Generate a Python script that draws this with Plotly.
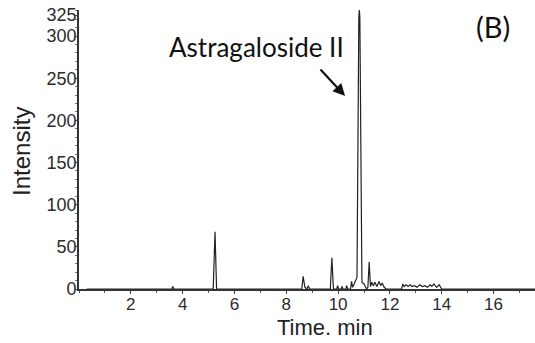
import plotly.graph_objects as go

# Chromatogram trace: retention time (min) and detector intensity
time_min = [
    0.3, 3.58, 3.62, 3.66,
    5.18, 5.25, 5.31,
    8.60, 8.65, 8.72, 8.80, 8.85, 8.90,
    9.70, 9.76, 9.82, 9.95, 9.98, 10.02, 10.12, 10.15, 10.19, 10.30, 10.33, 10.37,
    10.48, 10.52, 10.56, 10.62, 10.68, 10.73, 10.80, 10.82, 10.84, 10.92,
    11.00, 11.10, 11.15, 11.20, 11.25, 11.30, 11.36, 11.42, 11.50, 11.58, 11.64, 11.70, 11.78, 11.85,
    12.45, 12.50, 12.55, 12.62, 12.70, 12.78, 12.85, 12.95, 13.05, 13.15, 13.25, 13.35, 13.45,
    13.55, 13.62, 13.70, 13.80, 13.90, 14.00,
    17.6,
]
intensity = [
    0, 0, 3, 0,
    0, 68, 0,
    0, 15, 2, 0, 4, 0,
    0, 37, 0, 0, 4, 0, 0, 3, 0, 0, 4, 0,
    0, 9, 2, 6, 12, 14, 322, 331, 322, 8,
    6, 0, 2, 32, 3, 8, 4, 8, 3, 9, 4, 7, 2, 0,
    0, 6, 3, 5, 3, 5, 3, 4, 2, 5, 3, 4, 2,
    5, 3, 6, 2, 5, 0,
    0,
]

x_ticks = [2, 4, 6, 8, 10, 12, 14, 16]
y_ticks = [0, 50, 100, 150, 200, 250, 300, 325]

y_tick_font = dict(family="Liberation Sans, Arial, sans-serif", size=18, color="#2b2b2b")
x_tick_font = dict(family="Liberation Sans, Arial, sans-serif", size=17, color="#2b2b2b")
title_font = dict(family="Liberation Sans, Arial, sans-serif", size=22, color="#222222")

fig = go.Figure()
fig.add_trace(go.Scatter(
    x=time_min, y=intensity, mode="lines",
    line=dict(color="#222222", width=1.2),
    showlegend=False, hoverinfo="skip",
))

fig.update_xaxes(
    range=[0, 17.6], tickvals=x_ticks, ticktext=[str(v) for v in x_ticks],
    showgrid=False, zeroline=False, showline=True, linecolor="#333333", linewidth=1.6,
    ticks="outside", ticklen=3, tickcolor="#444444", tickwidth=1,
    minor=dict(dtick=1, ticks="outside", ticklen=2, tickcolor="#555555"),
    tickfont=x_tick_font, ticklabelstandoff=-4,
)
fig.update_yaxes(
    range=[0, 331], tickvals=y_ticks, ticktext=[str(v) for v in y_ticks],
    showgrid=False, zeroline=False, showline=True, linecolor="#333333", linewidth=1.6,
    ticks="outside", ticklen=2, tickcolor="#555555", tickwidth=1,
    minor=dict(dtick=10, ticks="outside", ticklen=2, tickcolor="#777777"),
    tickfont=y_tick_font, ticklabelstandoff=-5,
)

# Axis titles
fig.add_annotation(
    xref="paper", yref="paper", x=(325 - 79) / 456, y=(343 - 54 - 327) / 279,
    text="Time. min", showarrow=False, font=title_font,
    xanchor="center", yanchor="middle",
)
fig.add_annotation(
    xref="paper", yref="paper", x=(22 - 79) / 456, y=(289 - 152) / 279,
    text="Intensity", showarrow=False,
    font=dict(family="Liberation Sans, Arial, sans-serif", size=24, color="#222222"),
    textangle=-90, xanchor="center", yanchor="middle",
)

# Peak label and panel tag
fig.add_annotation(
    x=6.86, y=287, text="Astragaloside II", showarrow=False,
    font=dict(family="Lato, Carlito, sans-serif", size=26, color="#111111"),
    xanchor="center", yanchor="middle",
)
fig.add_annotation(
    x=10.27, y=229, ax=-26, ay=-28, axref="pixel", ayref="pixel",
    text="", showarrow=True, arrowhead=2, arrowsize=1.1, arrowwidth=2.2, arrowcolor="#111111",
)
fig.add_annotation(
    x=15.96, y=311, text="(B)", showarrow=False,
    font=dict(family="Lato, Carlito, sans-serif", size=29, color="#111111"),
    xanchor="center", yanchor="middle",
)

fig.update_layout(
    width=535, height=343,
    margin=dict(l=79, r=0, t=10, b=54),
    paper_bgcolor="white", plot_bgcolor="white",
)

fig.write_html("out.html")
